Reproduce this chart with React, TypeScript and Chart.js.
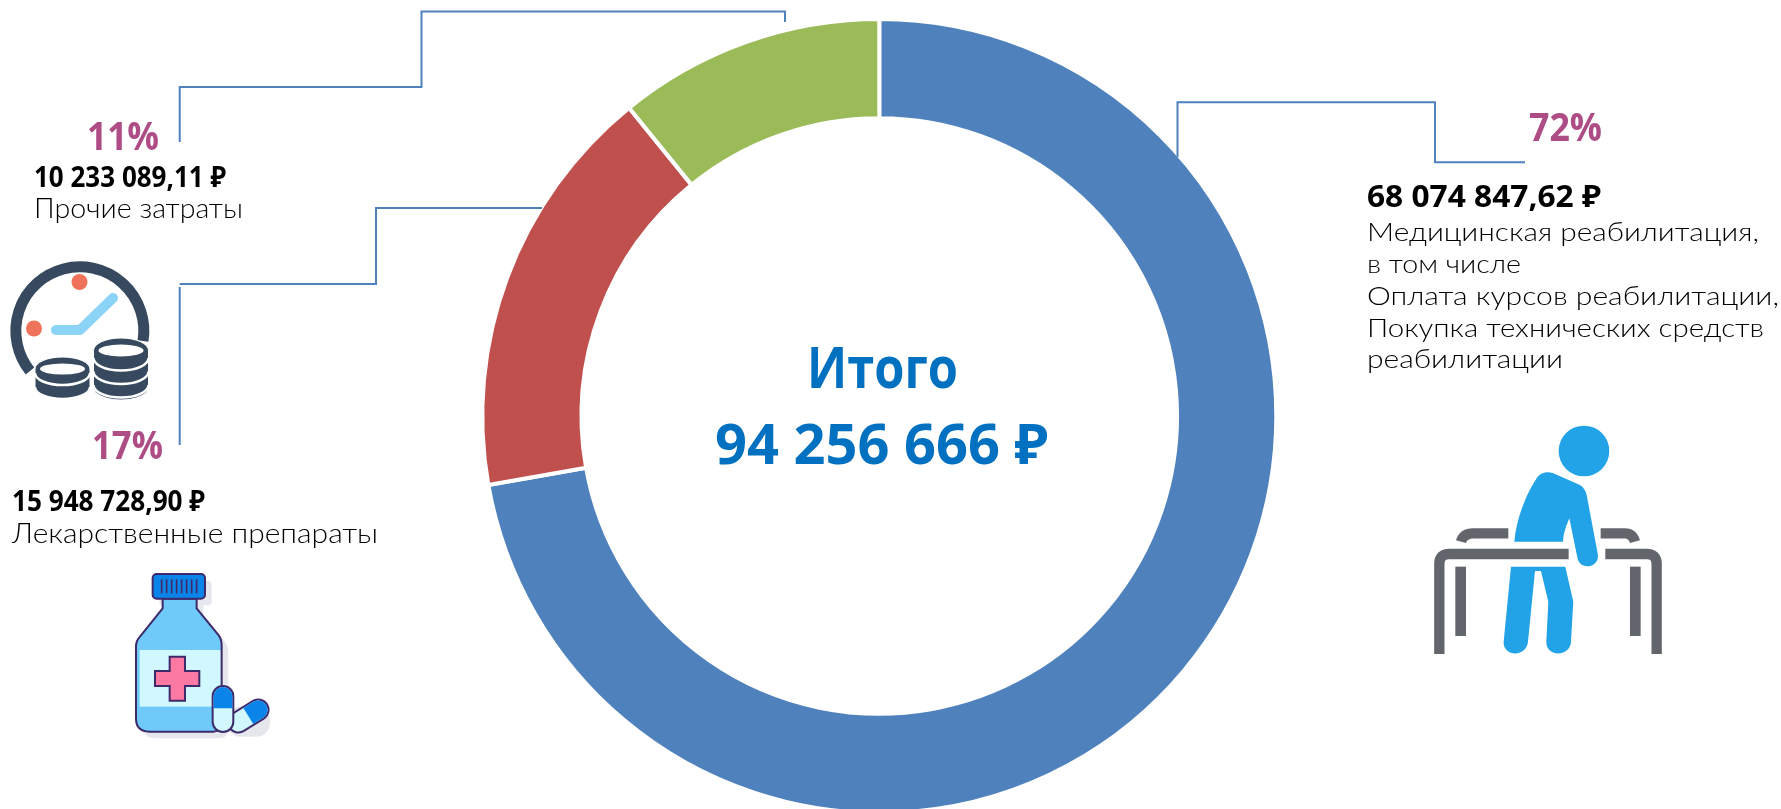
import React, { useEffect, useRef } from "react";
import { Chart, registerables } from "chart.js";

Chart.register(...registerables);

const categories = ["Медицинская реабилитация", "Лекарственные препараты", "Прочие затраты"];
const seriesValues = [68074847.62, 15948728.9, 10233089.11];
const sliceColors = ["#4F81BD", "#C0504D", "#9BBB59"];

const totalLines = ["Итого", "94 256 666 ₽"];
const percentLabels = ["72%", "17%", "11%"];
const amountLabels = ["68 074 847,62 ₽", "15 948 728,90 ₽", "10 233 089,11 ₽"];
const blueDescription = [
  "Медицинская реабилитация,",
  "в том числе",
  "Оплата курсов реабилитации,",
  "Покупка технических средств",
  "реабилитации",
];
const redDescription = "Лекарственные препараты";
const greenDescription = "Прочие затраты";

const W = 1781;
const H = 809;
const CANVAS_H = 815;
const BODY_FONT = "Lato, 'Open Sans', sans-serif";
const TOTAL_FONT = "'Open Sans', 'Noto Sans', sans-serif";
const AMOUNT_FONT = "'Noto Sans', 'DejaVu Sans', sans-serif";
const PCT_FONT = "'Open Sans', 'Noto Sans', sans-serif";
const PCT = "#AE4C85";
const LINE = "#4F81BD";

function T(props: { x: number; y: number; w: number; size: number; fill?: string; weight?: number; font?: string; children: string }) {
  return (
    <text
      x={props.x}
      y={props.y}
      fontSize={props.size}
      fontFamily={props.font || BODY_FONT}
      fontWeight={props.weight || 300}
      fill={props.fill || "#000"}
      textLength={props.w}
      lengthAdjust="spacingAndGlyphs"
    >
      {props.children}
    </text>
  );
}

function Coins(props: { x: number; top: number; rx: number; ry: number; bottom: number; arcs: number[] }) {
  const dark = "#36495F";
  const { x, top, rx, ry, bottom, arcs } = props;
  return (
    <g>
      <path
        d={`M${x} ${top} a${rx} ${ry} 0 0 1 ${2 * rx} 0 V${bottom - ry} a${rx} ${ry} 0 0 1 ${-2 * rx} 0 Z`}
        fill={dark}
        stroke="#fff"
        strokeWidth={1}
      />
      {arcs.map((y) => (
        <path key={y} d={`M${x} ${y} a${rx} ${ry} 0 0 0 ${2 * rx} 0`} fill="none" stroke="#fff" strokeWidth={2.5} />
      ))}
      <ellipse cx={x + rx} cy={top} rx={rx - 5} ry={ry - 6.5} fill="#fff" />
    </g>
  );
}

function ClockCoins() {
  return (
    <g>
      <path d="M143 341 A64 64 0 1 0 30 371" fill="none" stroke="#36495F" strokeWidth={11} />
      <circle cx={79.5} cy={282} r={8} fill="#EF735A" />
      <circle cx={34} cy={328.5} r={8} fill="#EF735A" />
      <path d="M56 330 H80 L113 298" fill="none" stroke="#8BD3F7" strokeWidth={10} strokeLinecap="round" strokeLinejoin="round" />
      <Coins x={93.5} top={350.5} rx={27.5} ry={12.5} bottom={400} arcs={[358, 371.5, 385]} />
      <Coins x={35} top={369} rx={27.5} ry={12} bottom={400} arcs={[373, 387]} />
    </g>
  );
}

function Bottle() {
  const o = "#3E2A6B";
  const blue = "#0A84E8";
  const sky = "#6FC9F9";
  const pale = "#D2F8FF";
  const body = "M488 536 V565 L420 650 Q408 662 408 680 V895 Q408 935 448 935 H640 Q665 935 665 895 V675 Q665 658 655 645 L590 565 V536 Z";
  const ribs = [485, 500, 515, 530, 545, 560, 575, 590];
  return (
    <g transform="translate(0,420) scale(0.3333)">
      <path d={body} fill="#E6E7EC" transform="translate(20,20)" />
      <rect x={478} y={482} width={157} height={74} rx={12} fill="#E6E7EC" />
      <rect x={680} y={860} width={130} height={90} rx={40} fill="#E6E7EC" />
      <path d={body} fill={sky} />
      <rect x={419} y={690} width={244} height={170} fill={pale} />
      <path d={body} fill="none" stroke={o} strokeWidth={6} />
      <rect x={458} y={462} width={157} height={74} rx={12} fill={blue} stroke={o} strokeWidth={6} />
      {ribs.map((x) => (
        <line key={x} x1={x} x2={x} y1={478} y2={520} stroke={o} strokeWidth={5} />
      ))}
      <path d="M509 710 H555 V753 H598 V798 H555 V842 H509 V798 H465 V753 H509 Z" fill="#FB79A3" stroke={o} strokeWidth={6} />
      <g transform="rotate(58 745 888)">
        <rect x={714} y={822} width={62} height={132} rx={31} fill={pale} stroke={o} strokeWidth={6} />
        <path d="M717 888 V853 a28 28 0 0 1 56 0 V888 Z" fill={blue} />
      </g>
      <rect x={638} y={798} width={62} height={138} rx={31} fill={pale} stroke={o} strokeWidth={6} />
      <path d="M641 865 V829 a28 28 0 0 1 56 0 V865 Z" fill={blue} />
    </g>
  );
}

function Person() {
  const grey = "#62666C";
  const blue = "#22A3E8";
  return (
    <g transform="translate(1380,400) scale(0.3333)">
      <g fill="none" stroke={grey} strokeWidth={31}>
        <path d="M178 762 V492 Q178 462 208 462 H566" />
        <path d="M830 762 V492 Q830 462 800 462 H676" />
        <path d="M243 425 Q250 400 280 400 H385" />
        <path d="M662 400 H735 Q758 400 765 425" />
      </g>
      <rect x={226} y={500} width={32} height={208} fill={grey} />
      <rect x={750} y={500} width={32} height={208} fill={grey} />
      <circle cx={612} cy={153} r={76} fill={blue} />
      <path d="M403 425 C410 350 440 280 470 235 C480 218 500 212 520 220 L600 255 C612 262 618 275 620 285 L653 460 C658 480 645 498 622 499 C605 499 595 488 592 472 L568 355 C558 380 550 400 549 425 Z" fill={blue} />
      <path d="M393 500 H556 L580 605 L573 725 C570 772 497 772 499 725 L505 605 L483 513 H465 L444 725 C440 772 368 772 371 725 Z" fill={blue} />
    </g>
  );
}

export default function App() {
  const ref = useRef<HTMLCanvasElement>(null);
  useEffect(() => {
    const chart = new Chart(ref.current as HTMLCanvasElement, {
      type: "doughnut",
      data: {
        labels: categories,
        datasets: [
          {
            data: seriesValues,
            backgroundColor: sliceColors,
            borderColor: "#fff",
            borderWidth: 4,
          },
        ],
      },
      options: {
        responsive: false,
        animation: false,
        cutout: "75%",
        layout: { padding: { top: 17, right: 22.4, bottom: 0, left: 0 } },
        plugins: { legend: { display: false }, tooltip: { enabled: false } },
      },
    });
    return () => chart.destroy();
  }, []);

  return (
    <div style={{ position: "absolute", left: 0, top: 0, width: W, height: H, overflow: "hidden", background: "#fff" }}>
      <canvas ref={ref} width={W} height={CANVAS_H} style={{ position: "absolute", left: 0, top: 0, display: "block" }} />
      <svg width={W} height={H} style={{ position: "absolute", left: 0, top: 0 }}>
        <g fill="none" stroke={LINE} strokeWidth={2}>
          <path d="M179.7 142 V87 H421.5 V11.5 H785 V22" />
          <path d="M179.7 445 V287 M179.7 284 H376 V208 H542" />
          <path d="M1177.5 157 V102.3 H1435 V162.3 H1525" />
        </g>

        <T x={807} y={387.7} w={151} size={58} weight={700} fill="#0070C0" font={TOTAL_FONT}>{totalLines[0]}</T>
        <T x={715} y={464} w={333} size={56} weight={700} fill="#0070C0" font={TOTAL_FONT}>{totalLines[1]}</T>

        <T x={1529} y={141} w={73} size={39} weight={700} fill={PCT} font={PCT_FONT}>{percentLabels[0]}</T>
        <T x={1367} y={206.7} w={234} size={31} weight={700} font={AMOUNT_FONT}>{amountLabels[0]}</T>
        <T x={1367} y={241} w={392} size={26}>{blueDescription[0]}</T>
        <T x={1367} y={272.7} w={154} size={26}>{blueDescription[1]}</T>
        <T x={1367} y={305} w={412} size={26}>{blueDescription[2]}</T>
        <T x={1367} y={336.7} w={397} size={26}>{blueDescription[3]}</T>
        <T x={1367} y={368} w={196} size={26}>{blueDescription[4]}</T>

        <T x={92} y={459} w={71} size={39} weight={700} fill={PCT} font={PCT_FONT}>{percentLabels[1]}</T>
        <T x={12} y={510.7} w={193} size={28} weight={700} font={AMOUNT_FONT}>{amountLabels[1]}</T>
        <T x={12} y={543} w={366} size={27}>{redDescription}</T>

        <T x={87} y={150} w={72} size={39} weight={700} fill={PCT} font={PCT_FONT}>{percentLabels[2]}</T>
        <T x={34} y={186.5} w={192} size={28} weight={700} font={AMOUNT_FONT}>{amountLabels[2]}</T>
        <T x={34} y={218} w={209} size={27}>{greenDescription}</T>

        <ClockCoins />
        <Bottle />
        <Person />
      </svg>
    </div>
  );
}
